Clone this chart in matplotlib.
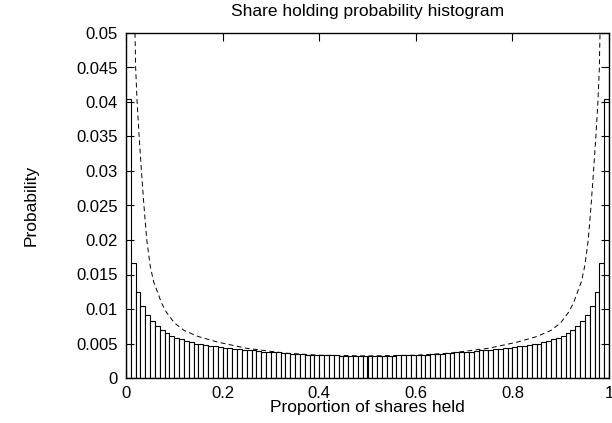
import numpy as np
import matplotlib.pyplot as plt

plt.rcParams['font.family'] = ['Liberation Sans', 'DejaVu Sans']

# Histogram of share-holding proportions, 100 bins of width 0.01
bin_width = 0.01
probs_left = [0.0405, 0.0166, 0.0125, 0.0104, 0.0091, 0.0082, 0.0075, 0.0070, 0.0065, 0.0061,
              0.0058, 0.0056, 0.0054, 0.0052, 0.0050, 0.0049, 0.0048, 0.0047, 0.0046, 0.0045,
              0.0044, 0.0043, 0.0042, 0.0042, 0.0041, 0.0040, 0.0040, 0.0039, 0.0038, 0.0038,
              0.0037, 0.0037, 0.0036, 0.0036, 0.0035, 0.0035, 0.0035, 0.0034, 0.0034, 0.0034,
              0.0033, 0.0033, 0.0033, 0.0033, 0.0032, 0.0032, 0.0032, 0.0032, 0.0032, 0.0032]
probs_right = [0.0032, 0.0032, 0.0032, 0.0032, 0.0032, 0.0032, 0.0033, 0.0033, 0.0033, 0.0033,
               0.0034, 0.0034, 0.0034, 0.0035, 0.0035, 0.0035, 0.0036, 0.0036, 0.0037, 0.0037,
               0.0038, 0.0038, 0.0039, 0.0040, 0.0040, 0.0041, 0.0042, 0.0042, 0.0043, 0.0044,
               0.0045, 0.0046, 0.0047, 0.0048, 0.0049, 0.0050, 0.0052, 0.0054, 0.0056, 0.0058,
               0.0061, 0.0065, 0.0070, 0.0075, 0.0082, 0.0091, 0.0104, 0.0125, 0.0166, 0.0405]
probs = np.array(probs_left + probs_right)
bin_centers = (np.arange(len(probs)) + 0.5) * bin_width

# Theoretical curve, sampled points
curve_x = [0.0186, 0.0195, 0.020, 0.023, 0.027, 0.032, 0.037, 0.043, 0.050, 0.057, 0.065, 0.074,
           0.084, 0.100, 0.120, 0.150, 0.190, 0.250, 0.330, 0.400, 0.500,
           0.600, 0.670, 0.750, 0.810, 0.850, 0.880, 0.900, 0.916, 0.926, 0.935, 0.943, 0.950,
           0.957, 0.963, 0.968, 0.973, 0.977, 0.980, 0.9805, 0.9814]
curve_y = [0.0500, 0.0470, 0.0449, 0.0400, 0.0352, 0.0300, 0.0251, 0.0200, 0.0163, 0.0140, 0.0125,
           0.0108, 0.0095, 0.0080, 0.0069, 0.0060, 0.0052, 0.0043, 0.0036, 0.0033, 0.0032,
           0.0033, 0.0036, 0.0043, 0.0052, 0.0060, 0.0069, 0.0080, 0.0095, 0.0108, 0.0125,
           0.0140, 0.0163, 0.0200, 0.0251, 0.0300, 0.0352, 0.0400, 0.0449, 0.0470, 0.0500]

fig = plt.figure(figsize=(6.12, 4.23), dpi=100)
ax = fig.add_axes([126 / 612, 45 / 423, 483 / 612, 345 / 423])

ax.bar(bin_centers, probs, width=bin_width, facecolor='white', edgecolor='black', linewidth=0.8)
ax.plot(curve_x, curve_y, color='black', linestyle=(0, (5, 3.5)), linewidth=0.7)

ax.set_xlim(0, 1)
ax.set_ylim(0, 0.05)
ax.set_xticks(np.arange(0, 1.01, 0.2))
ax.set_xticklabels(['0', '0.2', '0.4', '0.6', '0.8', '1'])
ax.set_yticks(np.arange(0, 0.0501, 0.005))
ax.set_yticklabels(['0', '0.005', '0.01', '0.015', '0.02', '0.025', '0.03', '0.035', '0.04', '0.045', '0.05'])
ax.tick_params(direction='in', length=6, width=0.8, top=True, right=True, labelsize=12, pad=6)
for s in ax.spines.values():
    s.set_linewidth(1.0)

ax.set_title('Share holding probability histogram', fontsize=12.5, pad=12)
ax.set_xlabel('Proportion of shares held', fontsize=12.5, labelpad=-1)
ax.set_ylabel('Probability', fontsize=12.5)
ax.yaxis.set_label_coords(-0.18, 0.5)

fig.savefig('out.png', dpi=100)
